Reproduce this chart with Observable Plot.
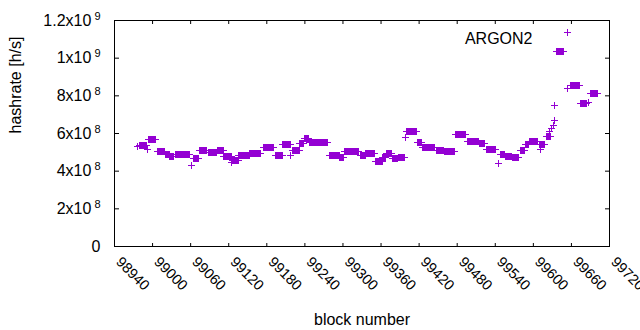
<!DOCTYPE html>
<html><head><meta charset="utf-8">
<script src="https://cdn.jsdelivr.net/npm/d3@7"></script>
<script src="https://cdn.jsdelivr.net/npm/@observablehq/plot@0.6"></script>
<style>
html,body{margin:0;padding:0;background:#fff;}
#chart{width:640px;height:330px;overflow:hidden;}
</style></head><body><div id="chart"></div>
<script>
// runs of consecutive blocks sharing (nearly) the same hashrate
const runStart = [98980, 98994, 99008, 99021, 99027, 99036, 99065, 99074, 99088, 99102, 99112, 99126, 99136, 99153, 99174, 99193, 99205, 99221, 99232, 99240, 99248, 99278, 99295, 99302, 99327, 99336, 99351, 99363, 99368, 99378, 99387, 99400, 99418, 99425, 99448, 99460, 99478, 99496, 99515, 99526, 99548, 99556, 99567, 99579, 99588, 99594, 99609, 99620, 99637, 99658, 99675, 99690];
const runEnd   = [98991, 99005, 99019, 99026, 99033, 99058, 99073, 99085, 99100, 99111, 99124, 99135, 99152, 99170, 99191, 99204, 99217, 99230, 99238, 99246, 99275, 99294, 99301, 99325, 99335, 99350, 99362, 99367, 99377, 99386, 99397, 99416, 99424, 99445, 99459, 99476, 99493, 99513, 99523, 99541, 99555, 99565, 99576, 99586, 99592, 99606, 99617, 99627, 99648, 99673, 99684, 99701];
const runValue = [5.38e8, 5.66e8, 5.07e8, 4.89e8, 4.78e8, 4.91e8, 4.67e8, 5.12e8, 5.00e8, 5.12e8, 4.78e8, 4.57e8, 4.83e8, 4.94e8, 5.28e8, 4.83e8, 5.42e8, 5.10e8, 5.45e8, 5.76e8, 5.50e8, 4.83e8, 4.75e8, 5.04e8, 4.83e8, 4.96e8, 4.49e8, 4.70e8, 4.95e8, 4.65e8, 4.75e8, 6.08e8, 5.50e8, 5.26e8, 5.12e8, 5.02e8, 5.97e8, 5.55e8, 5.45e8, 5.15e8, 4.89e8, 4.80e8, 4.75e8, 5.12e8, 5.42e8, 5.55e8, 5.39e8, 5.84e8, 10.33e8, 8.55e8, 7.57e8, 8.10e8];
// isolated blocks
const strayBlock = [98977, 98992, 99062, 99125, 99218, 99232, 99399, 99545, 99611, 99625, 99628, 99631, 99633, 99634, 99654, 99687];
const strayValue = [5.30e8, 5.15e8, 4.30e8, 4.46e8, 4.83e8, 5.10e8, 5.79e8, 4.41e8, 5.15e8, 6.10e8, 6.27e8, 6.42e8, 6.69e8, 7.49e8, 8.39e8, 7.65e8];

const xTicks = [98940, 99000, 99060, 99120, 99180, 99240, 99300, 99360, 99420, 99480, 99540, 99600, 99660, 99720];
const yTicks = [0, 2e8, 4e8, 6e8, 8e8, 1e9, 1.2e9];
const yTickMantissa = ["0", "2", "4", "6", "8", "1", "1.2"];
const yTickExponent = ["", "8", "8", "8", "8", "9", "9"];
const seriesName = "ARGON2";
const xTitle = "block number";
const yTitle = "hashrate [h/s]";
const color = "#9400d3";

const points = [];
runStart.forEach((s, i) => { for (let b = s; b <= runEnd[i]; b++) points.push({block: b, rate: runValue[i]}); });
strayBlock.forEach((b, i) => points.push({block: b, rate: strayValue[i]}));

const plus = {draw(ctx) { const r = 3.5; ctx.moveTo(-r, 0); ctx.lineTo(r, 0); ctx.moveTo(0, -r); ctx.lineTo(0, r); }};
const font = "'Liberation Sans', Arial, sans-serif";

const chart = Plot.plot({
  width: 640, height: 330,
  marginLeft: 114, marginRight: 31, marginTop: 20, marginBottom: 84,
  style: {fontFamily: font, fontSize: "14.5px", background: "#fff", color: "#000"},
  x: {domain: [98940, 99720], label: null},
  y: {domain: [0, 1.2e9], label: null},
  marks: [
    Plot.dot(points, {x: "block", y: "rate", symbol: plus, fill: "none", stroke: color, strokeWidth: 1, shapeRendering: "crispEdges"}),
    Plot.frame({stroke: "#000", strokeWidth: 1}),
    // inward ticks on all four sides
    Plot.axisX({ticks: xTicks, anchor: "top", frameAnchor: "bottom", tickSize: 4, tickFormat: () => "", label: null}),
    Plot.axisX({ticks: xTicks, anchor: "bottom", frameAnchor: "top", tickSize: 4, tickFormat: () => "", label: null}),
    Plot.axisY({ticks: yTicks, anchor: "right", frameAnchor: "left", tickSize: 4, tickFormat: () => "", label: null}),
    Plot.axisY({ticks: yTicks, anchor: "left", frameAnchor: "right", tickSize: 4, tickFormat: () => "", label: null}),
    // tick labels
    Plot.axisY({ticks: yTicks, anchor: "left", tickSize: 0, tickPadding: 14, label: null, fontSize: 16,
      tickFormat: (d) => { const i = yTicks.indexOf(d); return yTickMantissa[i] + (yTickExponent[i] ? "x10|" + yTickExponent[i] : ""); }}),
    Plot.text(xTicks, {x: d => d, frameAnchor: "bottom", text: d => String(d), rotate: 45, textAnchor: "start", lineAnchor: "top", dx: 8, dy: 9, fontSize: 14.5}),
    // axis titles
    Plot.text([xTitle], {frameAnchor: "bottom", lineAnchor: "bottom", dy: 78, fontSize: 16}),
    Plot.text([yTitle], {frameAnchor: "left", rotate: -90, lineAnchor: "bottom", dx: -94, fontSize: 16}),
    // key
    Plot.text([seriesName], {frameAnchor: "top-right", textAnchor: "end", dx: -77, dy: 12, fontSize: 16}),
    Plot.dot([seriesName], {frameAnchor: "top-right", dx: -42, dy: 12, symbol: plus, fill: "none", stroke: color, strokeWidth: 1, shapeRendering: "crispEdges"})
  ]
});

// superscript exponents in y tick labels
chart.querySelectorAll('g[aria-label="y-axis tick label"] text').forEach(t => {
  const s = t.textContent;
  if (s.includes("|")) {
    const [m, e] = s.split("|");
    t.textContent = m;
    const ts = document.createElementNS("http://www.w3.org/2000/svg", "tspan");
    ts.setAttribute("dx", "3");
    ts.setAttribute("dy", "-6");
    ts.setAttribute("font-size", "11px");
    ts.textContent = e;
    t.appendChild(ts);
  }
});
document.getElementById("chart").appendChild(chart);
</script></body></html>
